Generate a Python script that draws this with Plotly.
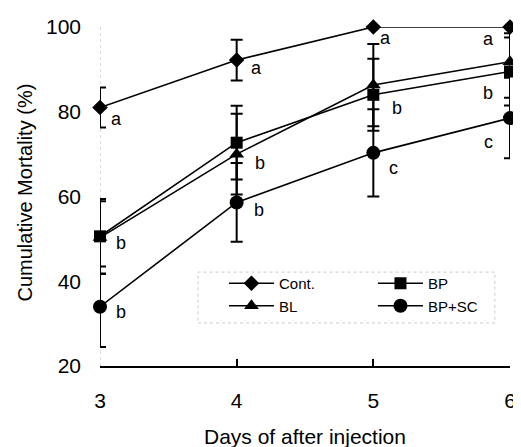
import plotly.graph_objects as go

days = [3, 4, 5, 6]
series_names = ["Cont.", "BP", "BL", "BP+SC"]
cont = [81.0, 92.2, 100.0, 100.0]
cont_err = [4.7, 4.8, 0.0, 1.5]
bp = [50.6, 72.7, 84.0, 89.5]
bp_err = [8.8, 8.7, 8.5, 8.0]
bl = [50.3, 70.0, 86.3, 91.8]
bl_err = [8.6, 9.5, 9.7, 8.5]
bpsc = [34.0, 58.6, 70.3, 78.5]
bpsc_err = [9.5, 9.3, 10.3, 9.5]

y_ticks = [20, 40, 60, 80, 100]
x_ticks = [3, 4, 5, 6]
x_title = "Days of after injection"
y_title = "Cumulative Mortality (%)"

# significance letters: (day, value, letter, xshift, yshift)
letters = [
    (3, cont[0], "a", 16, -11),
    (3, bp[0], "b", 21, -7),
    (3, bpsc[0], "b", 21, -5),
    (4, cont[1], "a", 20, -8),
    (4, bl[1], "b", 23, -9),
    (4, bpsc[1], "b", 22, -8),
    (5, cont[2], "a", 12, -11),
    (5, bp[2], "b", 24, -13),
    (5, bpsc[2], "c", 20, -15),
    (6, cont[3], "a", -22, -12),
    (6, bp[3], "b", -22, -22),
    (6, bpsc[3], "c", -22, -24),
]

symbols = ["diamond", "square", "triangle-up", "circle"]
sizes = [12, 12, 13, 14]
values = [cont, bp, bl, bpsc]
errs = [cont_err, bp_err, bl_err, bpsc_err]

FONT = "Arial, Liberation Sans, Helvetica, sans-serif"

fig = go.Figure()
for name, v, e, sym, sz in zip(series_names, values, errs, symbols, sizes):
    fig.add_trace(go.Scatter(
        x=days, y=v, name=name, mode="lines+markers",
        line=dict(color="black", width=1.6),
        marker=dict(symbol=sym, size=sz, color="black"),
        error_y=dict(type="data", array=e, visible=True, color="black",
                     thickness=2, width=6),
        cliponaxis=False,
    ))

for d, val, t, xs, ys in letters:
    fig.add_annotation(x=d, y=val, text=t, showarrow=False,
                       xshift=xs, yshift=ys,
                       font=dict(family=FONT, size=18, color="black"))

# axis titles
fig.add_annotation(xref="paper", yref="paper", x=0.5, y=0, yshift=-70,
                   xanchor="center", yanchor="middle",
                   text=x_title, showarrow=False,
                   font=dict(family=FONT, size=21, color="black"))
fig.add_annotation(xref="paper", yref="paper", x=0, y=0.5, xshift=-76, yshift=4,
                   xanchor="center", yanchor="middle",
                   text=y_title, textangle=-90, showarrow=False,
                   font=dict(family=FONT, size=20, color="black"))

# faint dotted y axis line
fig.add_shape(type="line", xref="x", yref="y", x0=3, x1=3, y0=20, y1=100,
              line=dict(color="#bbbbbb", width=1, dash="dot"), layer="below")
# faint dotted legend frame
fig.add_shape(type="rect", xref="paper", yref="paper",
              x0=0.239, x1=0.963, y0=0.127, y1=0.277,
              line=dict(color="#cccccc", width=1, dash="dot"))

fig.update_layout(
    width=513, height=439,
    margin=dict(l=92, r=11, t=19, b=81, autoexpand=False),
    paper_bgcolor="white", plot_bgcolor="white",
    font=dict(family=FONT, color="black"),
    showlegend=True,
    legend=dict(orientation="h", xref="container", yref="container",
                x=0.421, y=0.41, xanchor="left", yanchor="top",
                entrywidth=89, entrywidthmode="pixels",
                font=dict(size=15, family=FONT),
                bgcolor="rgba(0,0,0,0)", tracegroupgap=0, itemwidth=45),
    xaxis=dict(range=[3, 6], tickvals=x_ticks, ticks="inside", ticklen=7,
               tickwidth=1.5, tickcolor="black", showline=True, linecolor="black",
               linewidth=2, showgrid=False, zeroline=False, automargin=False,
               tickfont=dict(size=21), ticklabelstandoff=15),
    yaxis=dict(range=[20, 100], tickvals=y_ticks, ticks="", showline=False,
               showgrid=False, zeroline=False, automargin=False,
               tickfont=dict(size=21), ticklabelstandoff=18),
)

fig.write_html("out.html")
